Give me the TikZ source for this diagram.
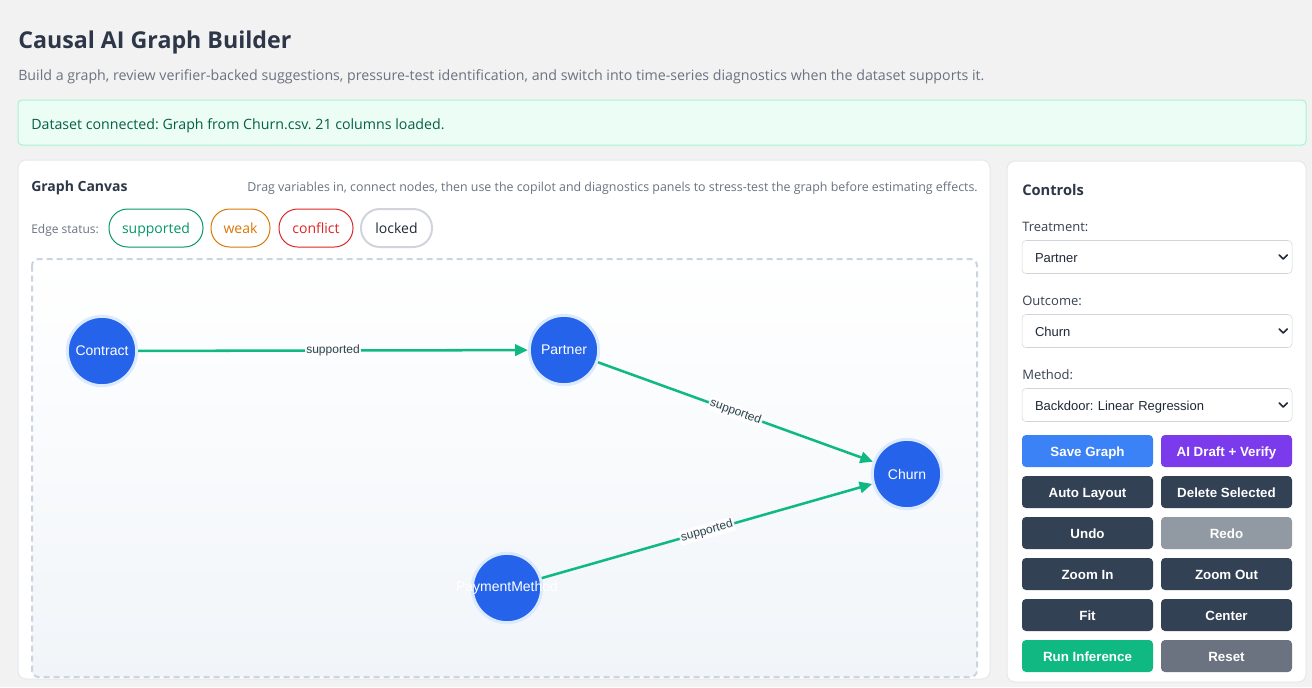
\documentclass[tikz,border=0pt]{standalone}
\usepackage{fontspec}
\setmainfont{Open Sans}
\newfontfamily\arialfont{Liberation Sans}
\usepackage{tikz}
\usetikzlibrary{arrows.meta}
\frenchspacing

\definecolor{pagebg}{HTML}{F2F2F2}
\definecolor{titlecol}{HTML}{2D3748}
\definecolor{subcol}{HTML}{6B7280}
\definecolor{bannerfill}{HTML}{ECFDF5}
\definecolor{bannerline}{HTML}{A7F3D0}
\definecolor{bannertext}{HTML}{065F46}
\definecolor{panelline}{HTML}{E5E7EB}
\definecolor{supcol}{HTML}{059669}
\definecolor{weakcol}{HTML}{D97706}
\definecolor{concol}{HTML}{DC2626}
\definecolor{lockline}{HTML}{D1D5DB}
\definecolor{locktext}{HTML}{1F2937}
\definecolor{canvasline}{HTML}{CBD5E1}
\definecolor{canvasbot}{HTML}{F1F5F9}
\definecolor{nodefill}{HTML}{2563EB}
\definecolor{nodering}{HTML}{DBEAFE}
\definecolor{edgecol}{HTML}{10B981}
\definecolor{labelcol}{HTML}{374151}
\definecolor{btnblue}{HTML}{3B82F6}
\definecolor{btnpurple}{HTML}{7C3AED}
\definecolor{btndark}{HTML}{334155}
\definecolor{btnredo}{HTML}{9199A3}
\definecolor{btngreen}{HTML}{10B981}
\definecolor{btngray}{HTML}{6B7280}

\begin{document}
\begin{tikzpicture}[x=0.75pt,y=-0.75pt,
        every node/.style={inner sep=0pt},
        txt/.style={anchor=west,font=\fontsize{10.65}{13}\selectfont},
        pill/.style={draw,line width=0.75pt,rounded corners=14pt,minimum height=28.5pt,text height=9.5pt,text depth=1.5pt,font=\fontsize{10.5}{13}\selectfont},
        vnode/.style={circle,fill=nodefill,draw=nodering,line width=2.25pt,minimum size=52pt,text=white,font=\arialfont\fontsize{10.5}{13}\selectfont},
        vtext/.style={text=white,font=\arialfont\fontsize{10.5}{13}\selectfont},
        edge/.style={draw=edgecol,line width=1.9pt,-{Triangle[length=9.5pt,width=8.5pt]}},
        elabel/.style={fill=white,fill opacity=0.9,text opacity=1,text=labelcol,inner sep=1.2pt,font=\arialfont\fontsize{9}{10}\selectfont},
        selbox/.style={draw=lockline,fill=white,rounded corners=3pt,minimum width=202.5pt,minimum height=24.75pt,inner xsep=9.75pt,text width=183pt,align=left,text height=8.6pt,text depth=0.6pt,text=locktext,font=\arialfont\fontsize{9.75}{12}\selectfont},
        btn/.style={rounded corners=3pt,minimum width=98.25pt,minimum height=24pt,text height=8.8pt,text depth=0.8pt,text=white,font=\arialfont\bfseries\fontsize{10}{12}\selectfont},
        chev/.style={draw=locktext,line width=1.2pt,line cap=round,line join=round}]
        \useasboundingbox (0,0) rectangle (1312,687);
        \fill[pagebg] (0,0) rectangle (1312,687);

        % header
        \node[anchor=west,text=titlecol,font=\fontsize{17.4}{21}\selectfont\bfseries] (title) at (18,42.5) {Causal AI Graph Builder};
        \node[txt,text=subcol] (subtitle) at (18,77) {Build a graph, review verifier-backed suggestions, pressure-test identification, and switch into time-series diagnostics when the dataset supports it.};
        \filldraw[fill=bannerfill,draw=bannerline,line width=0.75pt,rounded corners=3pt] (18,100) rectangle (1306,145);
        \node[txt,text=bannertext] (banner) at (31,126) {Dataset connected: Graph from Churn.csv. 21 columns loaded.};

        % graph canvas panel
        \filldraw[fill=white,draw=panelline,line width=0.75pt,rounded corners=6pt] (18,160) rectangle (990,679);
        \node[txt,text=titlecol,font=\fontsize{10.5}{13}\selectfont\bfseries] (canvastitle) at (31,188) {Graph Canvas};
        \node[anchor=east,text=subcol,font=\fontsize{9.3}{11}\selectfont] (hint) at (978,188) {Drag variables in, connect nodes, then use the copilot and diagnostics panels to stress-test the graph before estimating effects.};
        \node[anchor=west,text=subcol,font=\fontsize{9}{11}\selectfont] (status) at (31,230) {Edge status:};
        \node[pill,draw=supcol,text=supcol,minimum width=70.5pt] (psup) at (156,228) {supported};
        \node[pill,draw=weakcol,text=weakcol,minimum width=44.25pt] (pweak) at (240.5,228) {weak};
        \node[pill,draw=concol,text=concol,minimum width=55.5pt] (pcon) at (316,228) {conflict};
        \node[pill,draw=lockline,line width=1.5pt,text=locktext,minimum width=53.25pt] (plock) at (396.5,228) {locked};

        % canvas
        \shade[top color=white,bottom color=canvasbot,rounded corners=5pt] (32,259) rectangle (977,677);
        \draw[canvasline,line width=1.5pt,dash pattern=on 4.5pt off 3pt,rounded corners=5pt] (32,259) rectangle (977,677);

        % variables
        \node[vnode] (contract) at (102,351) {Contract};
        \node[vnode] (partner) at (564,350) {Partner};
        \node[vnode] (churn) at (907,474) {Churn};
        \node[vnode,label={[vtext]center:PaymentMethod}] (payment) at (507,588) {};

        % edges
        \draw[edge] (contract) -- node[elabel] (l1) {supported} (partner);
        \draw[edge] (partner) -- node[elabel,sloped] (l2) {supported} (churn);
        \draw[edge] (payment) -- node[elabel,sloped] (l3) {supported} (churn);

        % controls panel
        \filldraw[fill=white,draw=panelline,line width=0.75pt,rounded corners=6pt] (1007,161) rectangle (1306,682);
        \node[txt,text=titlecol,font=\fontsize{11}{13}\selectfont\bfseries] (controls) at (1022,190) {Controls};
        \node[txt,text=labelcol,font=\fontsize{9.75}{12}\selectfont] (treatlbl) at (1022,226.5) {Treatment:};
        \node[selbox] (treatsel) at (1157,257) {Partner};
        \node[txt,text=labelcol,font=\fontsize{9.75}{12}\selectfont] (outlbl) at (1022,300.5) {Outcome:};
        \node[selbox] (outsel) at (1157,331) {Churn};
        \node[txt,text=labelcol,font=\fontsize{9.75}{12}\selectfont] (methlbl) at (1022,374.5) {Method:};
        \node[selbox] (methsel) at (1157,405) {Backdoor: Linear Regression};
        \foreach \s in {treatsel,outsel,methsel}
            \draw[chev] (\s.east) ++(-13,-2) -- ++(4,4) -- ++(4,-4);

        % buttons
        \node[btn,fill=btnblue] (save) at (1087.5,451) {Save Graph};
        \node[btn,fill=btnpurple] (draft) at (1226.5,451) {AI Draft + Verify};
        \node[btn,fill=btndark] (auto) at (1087.5,492) {Auto Layout};
        \node[btn,fill=btndark] (delete) at (1226.5,492) {Delete Selected};
        \node[btn,fill=btndark] (undo) at (1087.5,533) {Undo};
        \node[btn,fill=btnredo] (redo) at (1226.5,533) {Redo};
        \node[btn,fill=btndark] (zin) at (1087.5,574) {Zoom In};
        \node[btn,fill=btndark] (zout) at (1226.5,574) {Zoom Out};
        \node[btn,fill=btndark] (fit) at (1087.5,615) {Fit};
        \node[btn,fill=btndark] (center) at (1226.5,615) {Center};
        \node[btn,fill=btngreen] (run) at (1087.5,656) {Run Inference};
        \node[btn,fill=btngray] (reset) at (1226.5,656) {Reset};
    \end{tikzpicture}
\end{document}
